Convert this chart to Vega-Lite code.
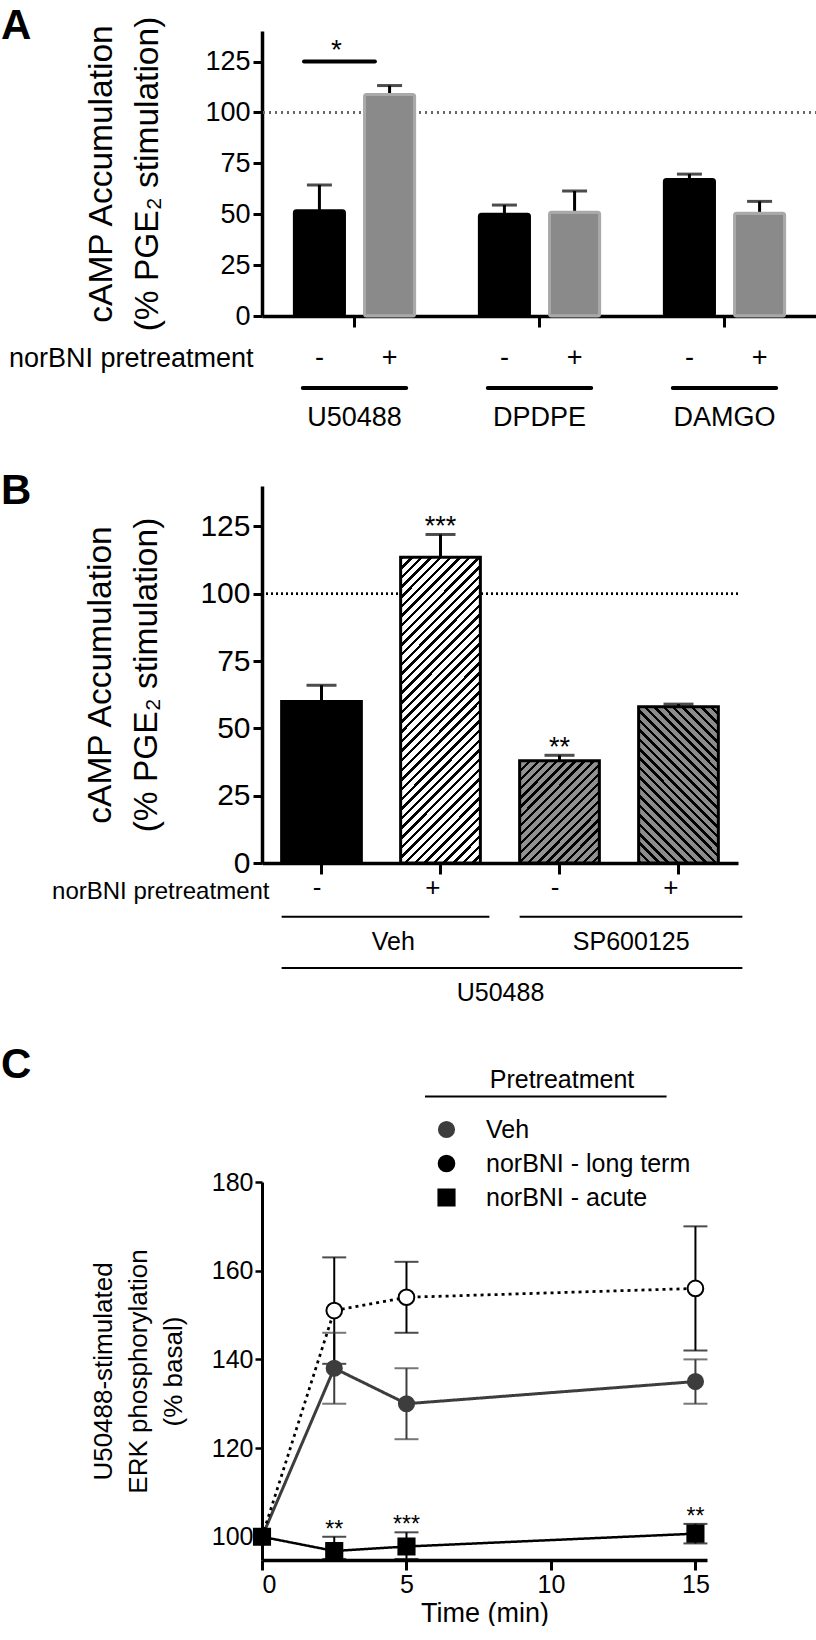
{
"$schema": "https://vega.github.io/schema/vega-lite/v6.json",
"padding": {"left": 1, "top": 5, "right": 0, "bottom": 0},
"background": "white",
"config": {
  "font": "Liberation Sans",
  "view": {"stroke": null},
  "axis": {"grid": false, "domainColor": "#000", "tickColor": "#000", "labelColor": "#000", "titleColor": "#000", "titleFontWeight": "normal", "labelFont": "Liberation Sans", "titleFont": "Liberation Sans", "labelLimit": 500},
  "title": {"fontSize": 42, "fontWeight": "bold", "anchor": "start", "frame": "group", "color": "#000", "font": "Liberation Sans"}
},
"bounds": "flush",
"spacing": 170,
"resolve": {"scale": {"fill": "independent", "stroke": "independent", "shape": "independent", "color": "independent", "size": "independent", "x": "independent", "y": "independent"}},
"vconcat": [
 {
  "width": 555, "height": 285,
  "title": {"text": "A", "dx": -261, "offset": -65, "baseline": "alphabetic"},
  "layer": [
   {
    "data": {"values": [
      {"drug": "U50488", "pre": "-", "value": 51.7, "err": 64.4},
      {"drug": "U50488", "pre": "+", "value": 108.8, "err": 113.2},
      {"drug": "DPDPE", "pre": "-", "value": 50, "err": 54.5},
      {"drug": "DPDPE", "pre": "+", "value": 51, "err": 61.4},
      {"drug": "DAMGO", "pre": "-", "value": 67, "err": 69.7},
      {"drug": "DAMGO", "pre": "+", "value": 50.5, "err": 56.3}
    ]},
    "layer": [
     {"mark": {"type": "rule", "strokeDash": [2, 4], "strokeWidth": 2, "color": "#666"}, "encoding": {"y": {"datum": 100}}},
     {"mark": {"type": "rule", "strokeWidth": 3, "color": "#000"},
      "encoding": {
        "x": {"field": "drug", "type": "nominal", "title": null},
        "xOffset": {"field": "pre", "type": "nominal"},
        "y": {"field": "value", "type": "quantitative"},
        "y2": {"field": "err"}}},
     {"mark": {"type": "tick", "orient": "horizontal", "size": 25, "thickness": 3, "color": "#000"},
      "encoding": {
        "x": {"field": "drug", "type": "nominal", "title": null},
        "xOffset": {"field": "pre", "type": "nominal"},
        "y": {"field": "err", "type": "quantitative"}}},
     {"mark": {"type": "bar", "strokeWidth": 3, "cornerRadius": 2},
      "encoding": {
        "x": {"field": "drug", "type": "nominal", "title": null,
              "scale": {"domain": ["U50488", "DPDPE", "DAMGO"], "paddingInner": 0.35, "paddingOuter": 0.175},
              "axis": {"labels": false, "tickSize": 11, "tickWidth": 3, "domainWidth": 3.5, "title": null}},
        "xOffset": {"field": "pre", "type": "nominal", "scale": {"domain": ["-", "+"], "paddingInner": 0.286, "paddingOuter": 0}},
        "y": {"field": "value", "type": "quantitative",
              "scale": {"domain": [0, 140], "nice": false},
              "axis": {"orient": "left", "values": [0, 25, 50, 75, 100, 125], "tickSize": 9, "tickWidth": 3, "domainWidth": 3.5, "labelFontSize": 27, "labelPadding": 3,
                       "title": ["cAMP Accumulation", "(% PGE₂ stimulation)"], "titleFontSize": 33.5, "titleLineHeight": 46, "titlePadding": 40}},
        "fill": {"field": "pre", "type": "nominal", "scale": {"domain": ["-", "+"], "range": ["#000", "#8a8a8a"]}, "legend": null},
        "stroke": {"field": "pre", "type": "nominal", "scale": {"domain": ["-", "+"], "range": ["#000", "#a9a9a9"]}, "legend": null}}},
     {"data": {"values": [{"drug": "U50488", "sig": "*"}]},
      "mark": {"type": "rule", "strokeWidth": 4, "strokeCap": "round", "color": "#000"},
      "encoding": {
        "x": {"field": "drug", "type": "nominal", "bandPosition": 0.08, "title": null},
        "x2": {"field": "drug", "bandPosition": 0.67},
        "y": {"datum": 125}}},
     {"data": {"values": [{"drug": "U50488", "sig": "*"}]},
      "mark": {"type": "text", "fontSize": 28, "baseline": "alphabetic", "dy": -3},
      "encoding": {
        "x": {"field": "drug", "type": "nominal", "bandPosition": 0.35, "title": null},
        "y": {"datum": 125},
        "text": {"field": "sig"}}}
    ]
   },
   {
    "data": {"values": [
      {"drug": "U50488", "pre": "-", "tier": "sign", "label": "-"},
      {"drug": "U50488", "pre": "+", "tier": "sign", "label": "+"},
      {"drug": "DPDPE", "pre": "-", "tier": "sign", "label": "-"},
      {"drug": "DPDPE", "pre": "+", "tier": "sign", "label": "+"},
      {"drug": "DAMGO", "pre": "-", "tier": "sign", "label": "-"},
      {"drug": "DAMGO", "pre": "+", "tier": "sign", "label": "+"},
      {"drug": "U50488", "tier": "line"},
      {"drug": "DPDPE", "tier": "line"},
      {"drug": "DAMGO", "tier": "line"},
      {"drug": "U50488", "tier": "name", "label": "U50488"},
      {"drug": "DPDPE", "tier": "name", "label": "DPDPE"},
      {"drug": "DAMGO", "tier": "name", "label": "DAMGO"}
    ]},
    "encoding": {"y": {"field": "tier", "type": "ordinal",
       "scale": {"type": "point", "domain": ["sign", "line", "name"], "range": [327, 387], "padding": 0},
       "axis": {"orient": "left", "domain": false, "ticks": false, "tickSize": 0, "labelPadding": 9, "labelFontSize": 27, "labelLimit": 500,
                "labelExpr": "datum.value == 'sign' ? 'norBNI pretreatment' : ''", "title": null}}},
    "layer": [
     {"transform": [{"filter": "datum.tier == 'sign'"}],
      "mark": {"type": "text", "fontSize": 27, "baseline": "middle"},
      "encoding": {"x": {"field": "drug", "type": "nominal", "title": null}, "xOffset": {"field": "pre", "type": "nominal"}, "text": {"field": "label"}}},
     {"transform": [{"filter": "datum.tier == 'line'"}],
      "mark": {"type": "rule", "strokeWidth": 4, "strokeCap": "round", "color": "#000"},
      "encoding": {"x": {"field": "drug", "type": "nominal", "bandPosition": 0.07, "title": null}, "x2": {"field": "drug", "bandPosition": 0.93}}},
     {"transform": [{"filter": "datum.tier == 'name'"}],
      "mark": {"type": "text", "fontSize": 27, "baseline": "middle"},
      "encoding": {"x": {"field": "drug", "type": "nominal", "title": null}, "text": {"field": "label"}}}
    ]
   }
  ],
  "resolve": {"scale": {"y": "independent"}, "axis": {"y": "independent"}}
 },
 {
  "width": 476, "height": 377,
  "title": {"text": "B", "dx": -261, "offset": -60, "baseline": "alphabetic"},
  "layer": [
   {
    "data": {"values": [
      {"cond": "Veh -", "value": 60, "err": 66},
      {"cond": "Veh +", "value": 113.5, "err": 122, "sig": "***"},
      {"cond": "SP -", "value": 38, "err": 40, "sig": "**"},
      {"cond": "SP +", "value": 58, "err": 59}
    ]},
    "layer": [
     {"mark": {"type": "rule", "strokeDash": [2, 3], "strokeWidth": 2, "color": "#000"}, "encoding": {"y": {"datum": 100}}},
     {"mark": {"type": "rule", "strokeWidth": 3, "color": "#000"},
      "encoding": {"x": {"field": "cond", "type": "nominal", "title": "U50488"}, "y": {"field": "value", "type": "quantitative"}, "y2": {"field": "err"}}},
     {"mark": {"type": "tick", "orient": "horizontal", "size": 30, "thickness": 3, "color": "#000"},
      "encoding": {"x": {"field": "cond", "type": "nominal", "title": "U50488"}, "y": {"field": "err", "type": "quantitative"}}},
     {"transform": [{"filter": "datum.cond == 'Veh -'"}],
      "mark": {"type": "bar", "fill": "#000", "stroke": "#000", "strokeWidth": 3},
      "encoding": {
        "x": {"field": "cond", "type": "nominal", "title": "U50488",
              "scale": {"domain": ["Veh -", "Veh +", "SP -", "SP +"], "paddingInner": 0.33, "paddingOuter": 0.165},
              "axis": {"labelExpr": "slice(datum.value, -1)", "labelAngle": 0, "labelFontSize": 26, "labelPadding": 13, "tickSize": 11, "tickWidth": 3, "domainWidth": 3.5,
                       "title": "U50488", "titleFontSize": 25, "titlePadding": 80}},
        "y": {"field": "value", "type": "quantitative", "scale": {"domain": [0, 140], "nice": false},
              "axis": {"orient": "left", "values": [0, 25, 50, 75, 100, 125], "tickSize": 9, "tickWidth": 3, "domainWidth": 3.5, "labelFontSize": 30, "labelPadding": 3,
                       "title": ["cAMP Accumulation", "(% PGE₂ stimulation)"], "titleFontSize": 33.5, "titleLineHeight": 46, "titlePadding": 36}}}},
     {"transform": [{"filter": "datum.cond == 'Veh +'"}],
      "mark": {"type": "bar", "stroke": "#000", "strokeWidth": 3,
        "fill": {"gradient": "linear", "x1": 0, "y1": 0, "x2": 0.309, "y2": 1.181, "stops": [
{"offset":0,"color":"#000"},{"offset":0.009,"color":"#000"},{"offset":0.009,"color":"#fff"},{"offset":0.025,"color":"#fff"},
{"offset":0.025,"color":"#000"},{"offset":0.034,"color":"#000"},{"offset":0.034,"color":"#fff"},{"offset":0.05,"color":"#fff"},
{"offset":0.05,"color":"#000"},{"offset":0.059,"color":"#000"},{"offset":0.059,"color":"#fff"},{"offset":0.075,"color":"#fff"},
{"offset":0.075,"color":"#000"},{"offset":0.084,"color":"#000"},{"offset":0.084,"color":"#fff"},{"offset":0.1,"color":"#fff"},
{"offset":0.1,"color":"#000"},{"offset":0.109,"color":"#000"},{"offset":0.109,"color":"#fff"},{"offset":0.125,"color":"#fff"},
{"offset":0.125,"color":"#000"},{"offset":0.134,"color":"#000"},{"offset":0.134,"color":"#fff"},{"offset":0.15,"color":"#fff"},
{"offset":0.15,"color":"#000"},{"offset":0.159,"color":"#000"},{"offset":0.159,"color":"#fff"},{"offset":0.175,"color":"#fff"},
{"offset":0.175,"color":"#000"},{"offset":0.184,"color":"#000"},{"offset":0.184,"color":"#fff"},{"offset":0.2,"color":"#fff"},
{"offset":0.2,"color":"#000"},{"offset":0.209,"color":"#000"},{"offset":0.209,"color":"#fff"},{"offset":0.225,"color":"#fff"},
{"offset":0.225,"color":"#000"},{"offset":0.234,"color":"#000"},{"offset":0.234,"color":"#fff"},{"offset":0.25,"color":"#fff"},
{"offset":0.25,"color":"#000"},{"offset":0.259,"color":"#000"},{"offset":0.259,"color":"#fff"},{"offset":0.275,"color":"#fff"},
{"offset":0.275,"color":"#000"},{"offset":0.284,"color":"#000"},{"offset":0.284,"color":"#fff"},{"offset":0.3,"color":"#fff"},
{"offset":0.3,"color":"#000"},{"offset":0.309,"color":"#000"},{"offset":0.309,"color":"#fff"},{"offset":0.325,"color":"#fff"},
{"offset":0.325,"color":"#000"},{"offset":0.334,"color":"#000"},{"offset":0.334,"color":"#fff"},{"offset":0.35,"color":"#fff"},
{"offset":0.35,"color":"#000"},{"offset":0.359,"color":"#000"},{"offset":0.359,"color":"#fff"},{"offset":0.375,"color":"#fff"},
{"offset":0.375,"color":"#000"},{"offset":0.384,"color":"#000"},{"offset":0.384,"color":"#fff"},{"offset":0.4,"color":"#fff"},
{"offset":0.4,"color":"#000"},{"offset":0.409,"color":"#000"},{"offset":0.409,"color":"#fff"},{"offset":0.425,"color":"#fff"},
{"offset":0.425,"color":"#000"},{"offset":0.434,"color":"#000"},{"offset":0.434,"color":"#fff"},{"offset":0.45,"color":"#fff"},
{"offset":0.45,"color":"#000"},{"offset":0.459,"color":"#000"},{"offset":0.459,"color":"#fff"},{"offset":0.475,"color":"#fff"},
{"offset":0.475,"color":"#000"},{"offset":0.484,"color":"#000"},{"offset":0.484,"color":"#fff"},{"offset":0.5,"color":"#fff"},
{"offset":0.5,"color":"#000"},{"offset":0.509,"color":"#000"},{"offset":0.509,"color":"#fff"},{"offset":0.525,"color":"#fff"},
{"offset":0.525,"color":"#000"},{"offset":0.534,"color":"#000"},{"offset":0.534,"color":"#fff"},{"offset":0.55,"color":"#fff"},
{"offset":0.55,"color":"#000"},{"offset":0.559,"color":"#000"},{"offset":0.559,"color":"#fff"},{"offset":0.575,"color":"#fff"},
{"offset":0.575,"color":"#000"},{"offset":0.584,"color":"#000"},{"offset":0.584,"color":"#fff"},{"offset":0.6,"color":"#fff"},
{"offset":0.6,"color":"#000"},{"offset":0.609,"color":"#000"},{"offset":0.609,"color":"#fff"},{"offset":0.625,"color":"#fff"},
{"offset":0.625,"color":"#000"},{"offset":0.634,"color":"#000"},{"offset":0.634,"color":"#fff"},{"offset":0.65,"color":"#fff"},
{"offset":0.65,"color":"#000"},{"offset":0.659,"color":"#000"},{"offset":0.659,"color":"#fff"},{"offset":0.675,"color":"#fff"},
{"offset":0.675,"color":"#000"},{"offset":0.684,"color":"#000"},{"offset":0.684,"color":"#fff"},{"offset":0.7,"color":"#fff"},
{"offset":0.7,"color":"#000"},{"offset":0.709,"color":"#000"},{"offset":0.709,"color":"#fff"},{"offset":0.725,"color":"#fff"},
{"offset":0.725,"color":"#000"},{"offset":0.734,"color":"#000"},{"offset":0.734,"color":"#fff"},{"offset":0.75,"color":"#fff"},
{"offset":0.75,"color":"#000"},{"offset":0.759,"color":"#000"},{"offset":0.759,"color":"#fff"},{"offset":0.775,"color":"#fff"},
{"offset":0.775,"color":"#000"},{"offset":0.784,"color":"#000"},{"offset":0.784,"color":"#fff"},{"offset":0.8,"color":"#fff"},
{"offset":0.8,"color":"#000"},{"offset":0.809,"color":"#000"},{"offset":0.809,"color":"#fff"},{"offset":0.825,"color":"#fff"},
{"offset":0.825,"color":"#000"},{"offset":0.834,"color":"#000"},{"offset":0.834,"color":"#fff"},{"offset":0.85,"color":"#fff"},
{"offset":0.85,"color":"#000"},{"offset":0.859,"color":"#000"},{"offset":0.859,"color":"#fff"},{"offset":0.875,"color":"#fff"},
{"offset":0.875,"color":"#000"},{"offset":0.884,"color":"#000"},{"offset":0.884,"color":"#fff"},{"offset":0.9,"color":"#fff"},
{"offset":0.9,"color":"#000"},{"offset":0.909,"color":"#000"},{"offset":0.909,"color":"#fff"},{"offset":0.925,"color":"#fff"},
{"offset":0.925,"color":"#000"},{"offset":0.934,"color":"#000"},{"offset":0.934,"color":"#fff"},{"offset":0.95,"color":"#fff"},
{"offset":0.95,"color":"#000"},{"offset":0.959,"color":"#000"},{"offset":0.959,"color":"#fff"},{"offset":0.975,"color":"#fff"},
{"offset":0.975,"color":"#000"},{"offset":0.984,"color":"#000"},{"offset":0.984,"color":"#fff"},{"offset":1,"color":"#fff"}
        ]}},
      "encoding": {"x": {"field": "cond", "type": "nominal", "title": "U50488"}, "y": {"field": "value", "type": "quantitative"}}},
     {"transform": [{"filter": "datum.cond == 'SP -'"}],
      "mark": {"type": "bar", "stroke": "#000", "strokeWidth": 3,
        "fill": {"gradient": "linear", "x1": 0, "y1": 0, "x2": 0.865, "y2": 1.106, "stops": [
{"offset":0,"color":"#000"},{"offset":0.018,"color":"#000"},{"offset":0.018,"color":"#919191"},{"offset":0.05,"color":"#919191"},
{"offset":0.05,"color":"#000"},{"offset":0.068,"color":"#000"},{"offset":0.068,"color":"#919191"},{"offset":0.1,"color":"#919191"},
{"offset":0.1,"color":"#000"},{"offset":0.118,"color":"#000"},{"offset":0.118,"color":"#919191"},{"offset":0.15,"color":"#919191"},
{"offset":0.15,"color":"#000"},{"offset":0.168,"color":"#000"},{"offset":0.168,"color":"#919191"},{"offset":0.2,"color":"#919191"},
{"offset":0.2,"color":"#000"},{"offset":0.218,"color":"#000"},{"offset":0.218,"color":"#919191"},{"offset":0.25,"color":"#919191"},
{"offset":0.25,"color":"#000"},{"offset":0.268,"color":"#000"},{"offset":0.268,"color":"#919191"},{"offset":0.3,"color":"#919191"},
{"offset":0.3,"color":"#000"},{"offset":0.318,"color":"#000"},{"offset":0.318,"color":"#919191"},{"offset":0.35,"color":"#919191"},
{"offset":0.35,"color":"#000"},{"offset":0.368,"color":"#000"},{"offset":0.368,"color":"#919191"},{"offset":0.4,"color":"#919191"},
{"offset":0.4,"color":"#000"},{"offset":0.418,"color":"#000"},{"offset":0.418,"color":"#919191"},{"offset":0.45,"color":"#919191"},
{"offset":0.45,"color":"#000"},{"offset":0.468,"color":"#000"},{"offset":0.468,"color":"#919191"},{"offset":0.5,"color":"#919191"},
{"offset":0.5,"color":"#000"},{"offset":0.518,"color":"#000"},{"offset":0.518,"color":"#919191"},{"offset":0.55,"color":"#919191"},
{"offset":0.55,"color":"#000"},{"offset":0.568,"color":"#000"},{"offset":0.568,"color":"#919191"},{"offset":0.6,"color":"#919191"},
{"offset":0.6,"color":"#000"},{"offset":0.618,"color":"#000"},{"offset":0.618,"color":"#919191"},{"offset":0.65,"color":"#919191"},
{"offset":0.65,"color":"#000"},{"offset":0.668,"color":"#000"},{"offset":0.668,"color":"#919191"},{"offset":0.7,"color":"#919191"},
{"offset":0.7,"color":"#000"},{"offset":0.718,"color":"#000"},{"offset":0.718,"color":"#919191"},{"offset":0.75,"color":"#919191"},
{"offset":0.75,"color":"#000"},{"offset":0.768,"color":"#000"},{"offset":0.768,"color":"#919191"},{"offset":0.8,"color":"#919191"},
{"offset":0.8,"color":"#000"},{"offset":0.818,"color":"#000"},{"offset":0.818,"color":"#919191"},{"offset":0.85,"color":"#919191"},
{"offset":0.85,"color":"#000"},{"offset":0.868,"color":"#000"},{"offset":0.868,"color":"#919191"},{"offset":0.9,"color":"#919191"},
{"offset":0.9,"color":"#000"},{"offset":0.918,"color":"#000"},{"offset":0.918,"color":"#919191"},{"offset":0.95,"color":"#919191"},
{"offset":0.95,"color":"#000"},{"offset":0.968,"color":"#000"},{"offset":0.968,"color":"#919191"},{"offset":1,"color":"#919191"}
        ]}},
      "encoding": {"x": {"field": "cond", "type": "nominal", "title": "U50488"}, "y": {"field": "value", "type": "quantitative"}}},
     {"transform": [{"filter": "datum.cond == 'SP +'"}],
      "mark": {"type": "bar", "stroke": "#000", "strokeWidth": 3,
        "fill": {"gradient": "linear", "x1": 0, "y1": 1, "x2": 0.613, "y2": -0.198, "stops": [
{"offset":0,"color":"#000"},{"offset":0.015,"color":"#000"},{"offset":0.015,"color":"#8c8c8c"},{"offset":0.04,"color":"#8c8c8c"},
{"offset":0.04,"color":"#000"},{"offset":0.055,"color":"#000"},{"offset":0.055,"color":"#8c8c8c"},{"offset":0.08,"color":"#8c8c8c"},
{"offset":0.08,"color":"#000"},{"offset":0.095,"color":"#000"},{"offset":0.095,"color":"#8c8c8c"},{"offset":0.12,"color":"#8c8c8c"},
{"offset":0.12,"color":"#000"},{"offset":0.135,"color":"#000"},{"offset":0.135,"color":"#8c8c8c"},{"offset":0.16,"color":"#8c8c8c"},
{"offset":0.16,"color":"#000"},{"offset":0.175,"color":"#000"},{"offset":0.175,"color":"#8c8c8c"},{"offset":0.2,"color":"#8c8c8c"},
{"offset":0.2,"color":"#000"},{"offset":0.215,"color":"#000"},{"offset":0.215,"color":"#8c8c8c"},{"offset":0.24,"color":"#8c8c8c"},
{"offset":0.24,"color":"#000"},{"offset":0.255,"color":"#000"},{"offset":0.255,"color":"#8c8c8c"},{"offset":0.28,"color":"#8c8c8c"},
{"offset":0.28,"color":"#000"},{"offset":0.295,"color":"#000"},{"offset":0.295,"color":"#8c8c8c"},{"offset":0.32,"color":"#8c8c8c"},
{"offset":0.32,"color":"#000"},{"offset":0.335,"color":"#000"},{"offset":0.335,"color":"#8c8c8c"},{"offset":0.36,"color":"#8c8c8c"},
{"offset":0.36,"color":"#000"},{"offset":0.375,"color":"#000"},{"offset":0.375,"color":"#8c8c8c"},{"offset":0.4,"color":"#8c8c8c"},
{"offset":0.4,"color":"#000"},{"offset":0.415,"color":"#000"},{"offset":0.415,"color":"#8c8c8c"},{"offset":0.44,"color":"#8c8c8c"},
{"offset":0.44,"color":"#000"},{"offset":0.455,"color":"#000"},{"offset":0.455,"color":"#8c8c8c"},{"offset":0.48,"color":"#8c8c8c"},
{"offset":0.48,"color":"#000"},{"offset":0.495,"color":"#000"},{"offset":0.495,"color":"#8c8c8c"},{"offset":0.52,"color":"#8c8c8c"},
{"offset":0.52,"color":"#000"},{"offset":0.535,"color":"#000"},{"offset":0.535,"color":"#8c8c8c"},{"offset":0.56,"color":"#8c8c8c"},
{"offset":0.56,"color":"#000"},{"offset":0.575,"color":"#000"},{"offset":0.575,"color":"#8c8c8c"},{"offset":0.6,"color":"#8c8c8c"},
{"offset":0.6,"color":"#000"},{"offset":0.615,"color":"#000"},{"offset":0.615,"color":"#8c8c8c"},{"offset":0.64,"color":"#8c8c8c"},
{"offset":0.64,"color":"#000"},{"offset":0.655,"color":"#000"},{"offset":0.655,"color":"#8c8c8c"},{"offset":0.68,"color":"#8c8c8c"},
{"offset":0.68,"color":"#000"},{"offset":0.695,"color":"#000"},{"offset":0.695,"color":"#8c8c8c"},{"offset":0.72,"color":"#8c8c8c"},
{"offset":0.72,"color":"#000"},{"offset":0.735,"color":"#000"},{"offset":0.735,"color":"#8c8c8c"},{"offset":0.76,"color":"#8c8c8c"},
{"offset":0.76,"color":"#000"},{"offset":0.775,"color":"#000"},{"offset":0.775,"color":"#8c8c8c"},{"offset":0.8,"color":"#8c8c8c"},
{"offset":0.8,"color":"#000"},{"offset":0.815,"color":"#000"},{"offset":0.815,"color":"#8c8c8c"},{"offset":0.84,"color":"#8c8c8c"},
{"offset":0.84,"color":"#000"},{"offset":0.855,"color":"#000"},{"offset":0.855,"color":"#8c8c8c"},{"offset":0.88,"color":"#8c8c8c"},
{"offset":0.88,"color":"#000"},{"offset":0.895,"color":"#000"},{"offset":0.895,"color":"#8c8c8c"},{"offset":0.92,"color":"#8c8c8c"},
{"offset":0.92,"color":"#000"},{"offset":0.935,"color":"#000"},{"offset":0.935,"color":"#8c8c8c"},{"offset":0.96,"color":"#8c8c8c"},
{"offset":0.96,"color":"#000"},{"offset":0.975,"color":"#000"},{"offset":0.975,"color":"#8c8c8c"},{"offset":1,"color":"#8c8c8c"}
        ]}},
      "encoding": {"x": {"field": "cond", "type": "nominal", "title": "U50488"}, "y": {"field": "value", "type": "quantitative"}}},
     {"transform": [{"filter": "isValid(datum.sig)"}],
      "mark": {"type": "text", "fontSize": 27, "baseline": "alphabetic", "dy": 1},
      "encoding": {"x": {"field": "cond", "type": "nominal", "title": "U50488"}, "y": {"field": "err", "type": "quantitative"}, "text": {"field": "sig"}}}
    ]
   },
   {
    "data": {"values": [
      {"tier": "line1", "from": "Veh -", "to": "Veh +"},
      {"tier": "line1", "from": "SP -", "to": "SP +"},
      {"tier": "label1", "from": "Veh -", "label": "Veh"},
      {"tier": "label1", "from": "SP -", "label": "SP600125"},
      {"tier": "line2", "from": "Veh -", "to": "SP +"}
    ]},
    "encoding": {"y": {"field": "tier", "type": "ordinal",
       "scale": {"type": "point", "domain": ["sign", "line1", "label1", "line2"], "range": [405, 482], "padding": 0},
       "axis": {"orient": "left", "domain": false, "ticks": false, "tickSize": 0, "labelPadding": -7, "labelFontSize": 24, "labelLimit": 500,
                "labelExpr": "datum.value == 'sign' ? 'norBNI pretreatment' : ''", "title": null}}},
    "layer": [
     {"transform": [{"filter": "datum.from == 'Veh -' && datum.to == 'Veh +'"}],
      "mark": {"type": "rule", "strokeWidth": 2, "color": "#000", "x2Offset": 9},
      "encoding": {"x": {"field": "from", "type": "nominal", "bandPosition": 0, "title": "U50488"}, "x2": {"field": "to", "bandPosition": 1}}},
     {"transform": [{"filter": "datum.to == 'SP +'"}],
      "mark": {"type": "rule", "strokeWidth": 2, "color": "#000", "x2Offset": 24},
      "encoding": {"x": {"field": "from", "type": "nominal", "bandPosition": 0, "title": "U50488"}, "x2": {"field": "to", "bandPosition": 1}}},
     {"transform": [{"filter": "isValid(datum.label)"}],
      "mark": {"type": "text", "fontSize": 25, "baseline": "middle"},
      "encoding": {"x": {"field": "from", "type": "nominal", "bandPosition": 1.4, "title": "U50488"}, "text": {"field": "label"}}}
    ]
   }
  ],
  "resolve": {"scale": {"y": "independent"}, "axis": {"y": "independent"}}
 },
 {
 "width": 445, "height": 527,
 "title": {"text": "C", "dx": -261, "offset": -87, "baseline": "alphabetic"},
 "data": {"values": [
   {"series": "Veh", "time": 0, "value": 100},
   {"series": "Veh", "time": 2.5, "value": 138, "lo": 130, "hi": 146},
   {"series": "Veh", "time": 5, "value": 130, "lo": 122, "hi": 138},
   {"series": "Veh", "time": 15, "value": 135, "lo": 130, "hi": 140},
   {"series": "norBNI - long term", "time": 0, "value": 100},
   {"series": "norBNI - long term", "time": 2.5, "value": 151, "lo": 139, "hi": 163},
   {"series": "norBNI - long term", "time": 5, "value": 154, "lo": 146, "hi": 162},
   {"series": "norBNI - long term", "time": 15, "value": 156, "lo": 142, "hi": 170},
   {"series": "norBNI - acute", "time": 0, "value": 100},
   {"series": "norBNI - acute", "time": 2.5, "value": 96.8, "lo": 95, "hi": 100, "sig": "**"},
   {"series": "norBNI - acute", "time": 5, "value": 97.8, "lo": 95, "hi": 101, "sig": "***"},
   {"series": "norBNI - acute", "time": 15, "value": 100.7, "lo": 98.5, "hi": 102.9, "sig": "**"}
 ]},
 "layer": [
  {"data": {"values": [{}]},
   "mark": {"type": "rule", "strokeWidth": 2, "color": "#000"},
   "encoding": {"x": {"datum": 5.64}, "x2": {"datum": 14.0}, "y": {"datum": 199.3}}},
  {"mark": {"type": "line"},
   "encoding": {
     "x": {"field": "time", "type": "quantitative", "scale": {"domain": [0, 15.4], "nice": false},
           "axis": {"values": [0, 5, 10, 15], "tickSize": 10, "tickWidth": 3, "domainWidth": 3.5, "labelFontSize": 25, "labelPadding": 2, "title": "Time (min)", "titleFontSize": 27, "titlePadding": 3}},
     "y": {"field": "value", "type": "quantitative", "scale": {"domain": [94.76, 180], "nice": false, "zero": false, "range": [527, 149]},
           "axis": {"values": [100, 120, 140, 160, 180], "tickSize": 7, "tickWidth": 2.5, "domainWidth": 3, "labelFontSize": 25, "labelPadding": 2,
                    "title": ["U50488-stimulated", "ERK phosphorylation", "(% basal)"], "titleFontSize": 26, "titleLineHeight": 35, "titlePadding": 25}},
     "stroke": {"field": "series", "type": "nominal", "title": "Pretreatment", "scale": {"domain": ["Veh", "norBNI - long term", "norBNI - acute"], "range": ["#3d3d3d", "#000", "#000"]},
                "legend": {"orient": "none", "legendX": 172, "legendY": 35, "titleFontSize": 25, "titleFontWeight": "normal", "titleColor": "#000", "titleAnchor": "middle", "titlePadding": 24, "labelFontSize": 25, "labelColor": "#000", "labelOffset": 27, "rowPadding": 8, "symbolSize": 250, "symbolStrokeWidth": 2, "labelLimit": 500}},
     "strokeDash": {"field": "series", "type": "nominal", "scale": {"domain": ["Veh", "norBNI - long term", "norBNI - acute"], "range": [[1, 0], [3, 4], [1, 0]]}, "legend": null},
     "strokeWidth": {"field": "series", "type": "nominal", "scale": {"domain": ["Veh", "norBNI - long term", "norBNI - acute"], "range": [3, 2.5, 3.5]}, "legend": null}}},
  {"transform": [{"filter": "isValid(datum.lo)"}],
   "mark": {"type": "rule", "strokeWidth": 2},
   "encoding": {"x": {"field": "time", "type": "quantitative"}, "y": {"field": "lo", "type": "quantitative"}, "y2": {"field": "hi"},
     "stroke": {"field": "series", "type": "nominal", "title": "Pretreatment"}}},
  {"transform": [{"filter": "isValid(datum.lo)"}],
   "mark": {"type": "tick", "orient": "horizontal", "size": 24, "thickness": 2},
   "encoding": {"x": {"field": "time", "type": "quantitative"}, "y": {"field": "lo", "type": "quantitative"},
     "color": {"field": "series", "type": "nominal", "scale": {"domain": ["Veh", "norBNI - long term", "norBNI - acute"], "range": ["#3d3d3d", "#000", "#000"]}, "legend": null}}},
  {"transform": [{"filter": "isValid(datum.hi)"}],
   "mark": {"type": "tick", "orient": "horizontal", "size": 24, "thickness": 2},
   "encoding": {"x": {"field": "time", "type": "quantitative"}, "y": {"field": "hi", "type": "quantitative"},
     "color": {"field": "series", "type": "nominal", "legend": null}}},
  {"mark": {"type": "point", "filled": true, "opacity": 1, "strokeWidth": 2},
   "encoding": {"x": {"field": "time", "type": "quantitative"}, "y": {"field": "value", "type": "quantitative"},
     "stroke": {"field": "series", "type": "nominal", "title": "Pretreatment"},
     "fill": {"field": "series", "type": "nominal", "title": "Pretreatment", "scale": {"domain": ["Veh", "norBNI - long term", "norBNI - acute"], "range": ["#3d3d3d", "#fff", "#000"]}},
     "shape": {"field": "series", "type": "nominal", "title": "Pretreatment", "scale": {"domain": ["Veh", "norBNI - long term", "norBNI - acute"], "range": ["circle", "circle", "square"]}},
     "size": {"field": "series", "type": "nominal", "scale": {"domain": ["Veh", "norBNI - long term", "norBNI - acute"], "range": [230, 260, 280]}, "legend": null}}},
  {"transform": [{"filter": "isValid(datum.sig)"}],
   "mark": {"type": "text", "fontSize": 23, "baseline": "alphabetic", "dy": 0},
   "encoding": {"x": {"field": "time", "type": "quantitative"}, "y": {"field": "hi", "type": "quantitative"}, "text": {"field": "sig"}}}
 ]
 }
]
}
